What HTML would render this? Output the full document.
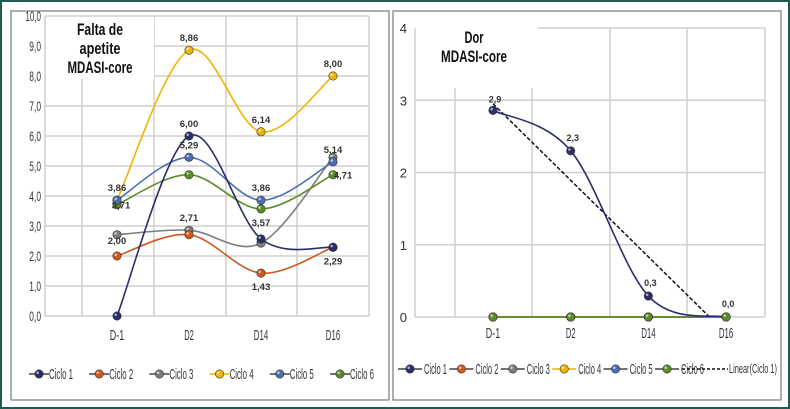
<!DOCTYPE html>
<html><head><meta charset="utf-8">
<style>
html,body{margin:0;padding:0;background:#fff;}
svg{display:block;font-family:"Liberation Sans",sans-serif;}
</style></head>
<body>
<svg id="c" width="790" height="409" viewBox="0 0 790 409">
<rect x="1" y="1" width="788" height="407" fill="#fff" stroke="#1f5b52" stroke-width="2"/>
<rect x="11" y="11" width="378" height="389" fill="#fff" stroke="#777" stroke-width="1.2"/>
<rect x="393" y="11" width="388" height="389" fill="#fff" stroke="#777" stroke-width="1.2"/>
<g id="left"></g>
<g id="right"></g>
</svg>
<script>
const categories = ["D-1","D2","D14","D16"];
const seriesNames = ["Ciclo 1","Ciclo 2","Ciclo 3","Ciclo 4","Ciclo 5","Ciclo 6"];
const colors = ["#2a2e6a","#d0581e","#7c7c7c","#f0b400","#4a6fb0","#5b8c26"];
const appetiteC1 = [0, 6.00, 2.57, 2.29];
const appetiteC2 = [2.00, 2.71, 1.43, 2.29];
const appetiteC3 = [2.71, 2.86, 2.43, 5.29];
const appetiteC4 = [3.86, 8.86, 6.14, 8.00];
const appetiteC5 = [3.86, 5.29, 3.86, 5.14];
const appetiteC6 = [3.71, 4.71, 3.57, 4.71];
const appetiteTicks = ["0,0","1,0","2,0","3,0","4,0","5,0","6,0","7,0","8,0","9,0","10,0"];
const appetiteLabels = [
  [null,"6,00",null,null],
  ["2,00",null,"1,43","2,29"],
  [null,"2,71",null,null],
  ["3,86","8,86","6,14","8,00"],
  [null,"5,29","3,86","5,14"],
  ["3,71",null,"3,57","4,71"]
];
const painC1 = [2.86, 2.3, 0.29, 0];
const painC2 = [0,0,0,0];
const painC3 = [0,0,0,0];
const painC4 = [0,0,0,0];
const painC5 = [0,0,0,0];
const painC6 = [0,0,0,0];
const painTicks = ["0","1","2","3","4"];
const painLabels = ["2,9","2,3","0,3","0,0"];

const NS="http://www.w3.org/2000/svg";
function mk(parent,tag,attrs){const e=document.createElementNS(NS,tag);for(const k in attrs)e.setAttribute(k,attrs[k]);parent.appendChild(e);return e;}
function smooth(pts){let d=`M${pts[0][0]},${pts[0][1]}`;for(let i=0;i<pts.length-1;i++){const p0=pts[i-1]||pts[i],p1=pts[i],p2=pts[i+1],p3=pts[i+2]||p2;const t=6;d+=` C${p1[0]+(p2[0]-p0[0])/t},${p1[1]+(p2[1]-p0[1])/t} ${p2[0]-(p3[0]-p1[0])/t},${p2[1]-(p3[1]-p1[1])/t} ${p2[0]},${p2[1]}`;}return d;}
function dot(g,x,y,c){const e=mk(g,"circle",{cx:x,cy:y,r:4.2,fill:c,stroke:"#333","stroke-width":0.6});mk(g,"circle",{cx:x-1.3,cy:y-1.3,r:1.3,fill:"#fff","fill-opacity":0.6});}

// LEFT chart
(function(){
const g=document.getElementById('left');
const X0=45,X1=369,Y0=316,Y10=16;
const y=v=>Y0-(v/10)*(Y0-Y10);
const x=i=>117+72*i;
appetiteTicks.forEach((t,i)=>{const yy=y(i);mk(g,"line",{x1:X0,x2:X1,y1:yy,y2:yy,stroke:"#cfcfcf","stroke-width":1.5});
 const tx=mk(g,"text",{x:X0-4,y:yy+5,"text-anchor":"end","font-size":14,fill:"#333",textLength:t.length*3.9,lengthAdjust:"spacingAndGlyphs"});tx.textContent=t;});
[X0,82,154,226,297,X1].forEach(gx=>mk(g,"line",{x1:gx,x2:gx,y1:Y10,y2:Y0,stroke:"#cfcfcf","stroke-width":1.5}));
const tb=mk(g,"rect",{x:46,y:17,width:108,height:62,fill:"#fff"});

[["Falta de",46],["apetite",41],["MDASI-core",65]].forEach((s,i)=>{const t=mk(g,"text",{x:100,y:35+i*19,"text-anchor":"middle","font-size":17,"font-weight":"bold",fill:"#111",textLength:s[1],lengthAdjust:"spacingAndGlyphs"});t.textContent=s[0];});
categories.forEach((c,i)=>{const t=mk(g,"text",{x:x(i),y:340,"text-anchor":"middle","font-size":15,fill:"#333",textLength:c.length*4.8,lengthAdjust:"spacingAndGlyphs"});t.textContent=c;});
const data=[appetiteC1,appetiteC2,appetiteC3,appetiteC4,appetiteC5,appetiteC6];
const order=[3,2,1,5,4,0];
order.forEach(s=>{const pts=data[s].map((v,i)=>[x(i),y(v)]);const p=mk(g,"path",{d:smooth(pts),fill:"none",stroke:colors[s],"stroke-width":1.6});});
order.forEach(s=>data[s].forEach((v,i)=>dot(g,x(i),y(v),colors[s])));
appetiteLabels.forEach((arr,s)=>arr.forEach((l,i)=>{if(!l)return;let dy=-9,dx=0;
 if((s===1&&i>=2)||(s===5&&i===2))dy=17; if(s===5&&i===3){dx=10;dy=4;} if(s===5&&i===0){dy=4;dx=4;} if(s===1&&i===0)dy=-12;
 const t=mk(g,"text",{x:x(i)+dx,y:y(data[s][i])+dy,"text-anchor":"middle","font-size":9.5,"font-weight":"bold",fill:"#333"});t.textContent=l;}));
seriesNames.forEach((n,s)=>{const mx=39+60.2*s,ly=374;mk(g,"line",{x1:mx-10,x2:mx+10,y1:ly,y2:ly,stroke:s===3?colors[s]:"#444","stroke-width":1.4});dot(g,mx,ly,colors[s]);
 const t=mk(g,"text",{x:mx+10,y:ly+5,"font-size":15,fill:"#333",textLength:24,lengthAdjust:"spacingAndGlyphs"});t.textContent=n;});
})();

// RIGHT chart
(function(){
const g=document.getElementById('right');
const X0=415,X1=765,Y0=317,Y4=28;
const y=v=>Y0-(v/4)*(Y0-Y4);
const x=i=>493+77.7*i;
painTicks.forEach((t,i)=>{const yy=y(i);mk(g,"line",{x1:i===4?538:X0,x2:X1,y1:yy,y2:yy,stroke:"#cfcfcf","stroke-width":1.5});
 const tx=mk(g,"text",{x:X0-8,y:yy+5,"text-anchor":"end","font-size":13,fill:"#333"});tx.textContent=t;});
[X0,455,532,610,687,X1].forEach(gx=>mk(g,"line",{x1:gx,x2:gx,y1:Y4,y2:Y0,stroke:"#cfcfcf","stroke-width":1.5}));
const tb=mk(g,"rect",{x:416,y:20,width:122,height:68,fill:"#fff"});

[["Dor",19],["MDASI-core",66]].forEach((s,i)=>{const t=mk(g,"text",{x:474,y:43+i*19,"text-anchor":"middle","font-size":17,"font-weight":"bold",fill:"#111",textLength:s[1],lengthAdjust:"spacingAndGlyphs"});t.textContent=s[0];});
categories.forEach((c,i)=>{const t=mk(g,"text",{x:x(i),y:338,"text-anchor":"middle","font-size":15,fill:"#333",textLength:c.length*4.8,lengthAdjust:"spacingAndGlyphs"});t.textContent=c;});
const data=[painC1,painC2,painC3,painC4,painC5,painC6];
const n=painC1.length;let mx=0,my=0;painC1.forEach((v,i)=>{mx+=i;my+=v;});mx/=n;my/=n;
let num=0,den=0;painC1.forEach((v,i)=>{num+=(i-mx)*(v-my);den+=(i-mx)*(i-mx);});const sl=num/den,ic=my-sl*mx;
const xz=sl<0?Math.min(n-1,-ic/sl):n-1;
const tr=mk(g,"line",{x1:x(0),y1:y(ic),x2:x(xz),y2:y(Math.max(0,ic+sl*xz)),stroke:"#111","stroke-width":1.5,"stroke-dasharray":"4,2"});

[1,2,3,4,5,0].forEach(s=>{const pts=data[s].map((v,i)=>[x(i),y(v)]);const p=mk(g,"path",{d:smooth(pts),fill:"none",stroke:colors[s],"stroke-width":1.6});});
[0,1,2,3,4,5].forEach(s=>data[s].forEach((v,i)=>dot(g,x(i),y(v),colors[s])));
painLabels.forEach((l,i)=>{const t=mk(g,"text",{x:x(i)+2,y:y(painC1[i])-(i===0?8:10),"text-anchor":"middle","font-size":9,"font-weight":"bold",fill:"#333"});t.textContent=l;});
seriesNames.forEach((nm,s)=>{const mx=410+51.4*s,ly=369;mk(g,"line",{x1:mx-12,x2:mx+12,y1:ly,y2:ly,stroke:s===3?colors[s]:"#444","stroke-width":1.4});dot(g,mx,ly,colors[s]);
 const t=mk(g,"text",{x:mx+14,y:ly+5,"font-size":14.5,fill:"#333",textLength:23,lengthAdjust:"spacingAndGlyphs"});t.textContent=nm;});
mk(g,"line",{x1:682,x2:728,y1:369,y2:369,stroke:"#111","stroke-width":1.4,"stroke-dasharray":"3,2"});
const lt=mk(g,"text",{x:729,y:373,"font-size":12.5,fill:"#333",textLength:48,lengthAdjust:"spacingAndGlyphs"});lt.textContent="Linear(Ciclo 1)";


})();
</script>
</body></html>
